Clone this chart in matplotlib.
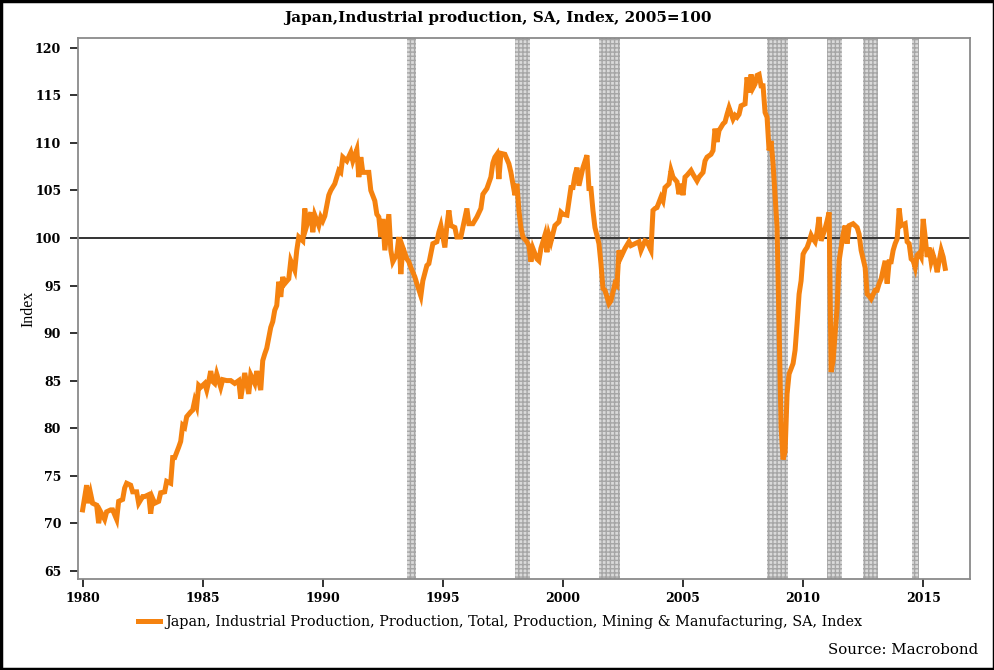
import numpy as np
import matplotlib
matplotlib.use("Agg")
import matplotlib.pyplot as plt
from matplotlib.patches import Rectangle

# ---------------- data ----------------
# months since Jan 1980 and index values (2005=100)
month_idx = [
    0, 2, 3, 4, 5, 7, 8, 9, 11, 12, 14, 15, 17, 18, 20, 21, 22, 24, 25, 27, 28, 30, 31, 33, 34, 35,
    36, 38, 39, 41, 42, 44, 45, 46, 48, 49, 50, 51, 52, 54, 55, 56, 57, 58, 59, 60, 61, 62, 63, 64,
    65, 66, 67, 68, 69, 70, 72, 74, 76, 78, 79, 81, 83, 84, 86, 87, 89, 90, 91, 92, 94, 95, 96, 97,
    98, 99, 100, 101, 103, 104, 106, 107, 108, 110, 111, 112, 114, 115, 116, 118, 119, 120,
    121, 123, 124, 126, 128, 129, 130, 132, 134, 135, 137, 138, 139, 140, 142, 143, 144, 146, 147,
    148, 149, 150, 151, 153, 154, 155, 157, 158, 159, 160, 162, 163, 164, 166, 167, 169, 170, 172,
    173, 175, 177, 178, 179, 181, 182, 183, 184, 186, 187, 189, 190, 192, 193, 195, 197, 199, 200,
    202, 204, 205, 206, 207, 208, 209, 211, 213, 214, 215, 216, 217, 218, 219, 220, 222, 223, 224,
    225, 227, 228, 229, 231, 232, 233,
    234, 236, 238, 239, 240, 242, 244, 245, 246, 247, 248, 250, 252, 253, 254, 255, 256, 258, 259,
    260, 261, 263, 264, 266, 267, 268, 269, 271, 273, 274, 276, 278, 279, 281, 282, 284, 285, 286,
    287, 289, 290, 291, 293, 294, 295, 297, 298, 299, 300, 301, 302, 304, 305, 307, 308, 310, 311,
    312, 314, 315, 316, 317, 318, 320, 321, 322, 323, 325, 326, 327, 328, 329, 331, 332, 333, 334,
    335, 336, 337, 338, 339, 340, 341, 342, 343, 344, 345, 347, 348, 349, 350, 351, 352, 353, 355,
    356, 357, 358, 359, 360, 361, 362, 363, 364, 365, 366, 367, 368, 369, 371, 372, 373, 374, 375,
    377, 378, 379, 380, 381, 382, 383, 385, 387, 388, 389, 390, 391, 392, 393, 394, 396, 397, 398,
    399, 401, 402, 403, 404, 405, 406, 407, 408, 409, 411, 412, 413, 414, 415, 416, 417, 418, 419,
    420, 421, 422, 423, 424, 425, 426, 427, 428, 429, 430, 431,
]
ip_index = [
    71.4, 74.0, 72.1, 73.1, 72.1, 71.9, 70.0, 71.2, 70.4, 71.2, 71.4, 71.4, 70.4, 72.3, 72.5, 73.7,
    74.2, 74.0, 73.3, 73.3, 72.1, 72.8, 72.8, 73.0, 71.0, 72.6,
    72.1, 72.3, 73.2, 73.3, 74.4, 74.2, 76.9, 76.9, 78.0, 78.6, 80.3, 80.1, 81.2, 81.7, 81.9, 82.9,
    82.3, 84.5, 84.3, 84.5, 84.7, 84.0, 84.9, 86.0,
    84.9, 84.7, 85.7, 85.0, 84.3, 85.1, 85.0, 85.0, 84.7, 85.0, 83.1, 85.8, 83.6, 85.6, 84.7, 86.0,
    84.0, 87.1, 87.8, 88.4, 90.6, 91.2, 92.4, 92.9,
    95.4, 93.8, 95.9, 95.2, 95.7, 97.6, 96.6, 98.7, 100.1, 99.7, 103.1, 101.3, 102.7, 100.6, 102.4,
    101.3, 102.2, 101.8,
    102.3, 104.5, 105.0, 105.7, 107.1, 106.9, 108.5, 108.1, 109.0, 108.1, 109.3, 106.4, 108.5, 106.9,
    106.9, 106.9, 105.0, 103.9, 102.5,
    102.2, 100.1, 102.0, 98.7, 102.5, 98.7, 97.5, 98.3, 100.1, 96.2, 99.0, 97.8, 97.5, 96.9, 95.9,
    95.2, 93.9, 95.5, 97.1,
    97.3, 99.4, 99.6, 100.6, 101.3, 99.0, 101.3, 102.9, 101.3, 101.1, 100.1, 100.1, 101.1, 103.1,
    101.5, 101.5, 102.2, 103.1, 104.6,
    105.2, 106.4, 107.9, 108.5, 108.8, 106.2, 108.9, 108.8, 107.8, 106.9, 105.7, 104.5, 105.7, 102.9,
    101.1, 100.1, 99.6, 99.2, 97.5,
    98.9, 97.8, 97.6, 98.9, 100.3, 98.5, 100.3,
    99.6, 101.3, 101.7, 102.7, 102.5, 102.4, 105.3, 105.3, 106.6, 107.4, 105.5, 107.4, 108.7, 105.2,
    105.2, 102.9, 101.1, 99.4, 97.3,
    94.7, 94.5, 93.1, 93.4, 95.2, 95.0, 98.7, 98.0, 98.9, 99.6, 99.2, 99.4, 99.6, 98.7, 99.7, 99.6,
    98.7, 102.9, 103.1,
    103.2, 104.3, 103.9, 105.3, 105.7, 107.1, 106.4, 105.9, 104.6, 105.7, 104.5, 106.4, 106.6, 107.1,
    106.7, 106.0, 106.4, 106.9, 108.1,
    108.5, 108.8, 109.2, 111.5, 110.1, 111.3, 112.0, 112.2, 113.0, 113.7, 112.5, 112.9, 112.7, 113.0,
    113.9, 114.1, 116.9, 115.3, 117.2,
    115.8, 116.2, 117.1, 117.2, 116.0, 116.0, 113.2, 112.7, 109.2, 110.2, 107.8, 101.1, 90.6, 80.1,
    76.7, 77.5, 83.6, 85.7, 86.8,
    88.2, 91.0, 94.1, 95.5, 98.3, 98.7, 99.0, 99.6, 100.3, 99.9, 99.6, 100.6, 102.2, 99.7, 101.0,
    101.8, 102.7, 85.9, 87.1,
    92.7, 97.6, 99.0, 100.4, 101.3, 99.4, 101.3, 101.5, 101.1, 100.4, 98.7, 97.8, 96.9, 94.1, 93.9,
    93.6, 94.5, 94.5, 95.2,
    95.7, 97.6, 95.2, 97.5, 97.5, 98.7, 99.4, 99.9, 103.1, 101.3, 101.5, 99.6, 99.4, 97.8, 97.6,
    96.9, 98.2, 98.4, 98.0,
    102.0, 100.1, 98.0, 99.0, 97.5, 98.2, 97.5, 96.4, 97.6, 98.7, 98.0, 96.8,
]

# recession periods (decimal years)
rec_start = [1993.52, 1998.00, 2001.51, 2008.51, 2011.01, 2012.51, 2014.53]
rec_end   = [1993.87, 1998.63, 2002.38, 2009.36, 2011.61, 2013.11, 2014.83]

x_ticks = [1980, 1985, 1990, 1995, 2000, 2005, 2010, 2015]
y_ticks = [65, 70, 75, 80, 85, 90, 95, 100, 105, 110, 115, 120]

title = "Japan,Industrial production, SA, Index, 2005=100"
series_label = ("Japan, Industrial Production, Production, Total, Production, "
                "Mining & Manufacturing, SA, Index")
source = "Source: Macrobond"

# ---------------- plot ----------------
W, H = 995, 670
fig = plt.figure(figsize=(W / 100, H / 100), dpi=100)
ax = fig.add_axes([78.3 / W, 1 - 579.3 / H, (970 - 78.3) / W, (579.3 - 38.3) / H])

t = 1980 + np.array(month_idx) / 12.0
vals = np.array(ip_index)

for s, e in zip(rec_start, rec_end):
    ax.axvspan(s, e, facecolor="#dadada", edgecolor="#a6a6a6", hatch="++++",
               linewidth=0, zorder=1)

ax.axhline(100, color="#333333", lw=1.4, zorder=2)
line, = ax.plot(t, vals, color="#F5820F", lw=3.6, solid_joinstyle="miter", zorder=3,
                label=series_label)

ax.set_xlim(1979.82, 2016.95)
ax.set_ylim(64.1, 121.0)
ax.set_xticks(x_ticks)
ax.set_yticks(y_ticks)
tick_font = dict(family="DejaVu Serif", weight="bold", size=9)
ax.set_xticklabels([str(v) for v in x_ticks], **tick_font)
ax.set_yticklabels([str(v) for v in y_ticks], **tick_font)
ax.tick_params(axis="both", direction="out", length=6, width=1.3, color="#222222")
ax.tick_params(axis="x", pad=3)
ax.tick_params(axis="y", pad=6.3)
for sp in ax.spines.values():
    sp.set_color("#8a8a8a")
    sp.set_linewidth(1.3)

ax.set_ylabel("Index", family="Liberation Serif", size=11.5)
ax.yaxis.set_label_coords(-0.047, 0.5)

fig.text(498 / W, 1 - 18 / H, title, ha="center", va="center",
         family="DejaVu Serif", weight="bold", size=11)

leg = fig.legend(handles=[line], loc="center", bbox_to_anchor=(500 / W, 1 - 622 / H),
                 frameon=False, prop=dict(family="DejaVu Serif", size=10.4),
                 handlelength=1.5, handletextpad=0.35, borderaxespad=0)
fig.text(978 / W, 1 - 650 / H, source, ha="right", va="center",
         family="DejaVu Serif", size=10.8)

fig.patches.append(Rectangle((0.0015, 0.002), 0.997, 0.996, transform=fig.transFigure,
                             fill=False, edgecolor="black", linewidth=2.5))

fig.savefig("out.png", dpi=100)
